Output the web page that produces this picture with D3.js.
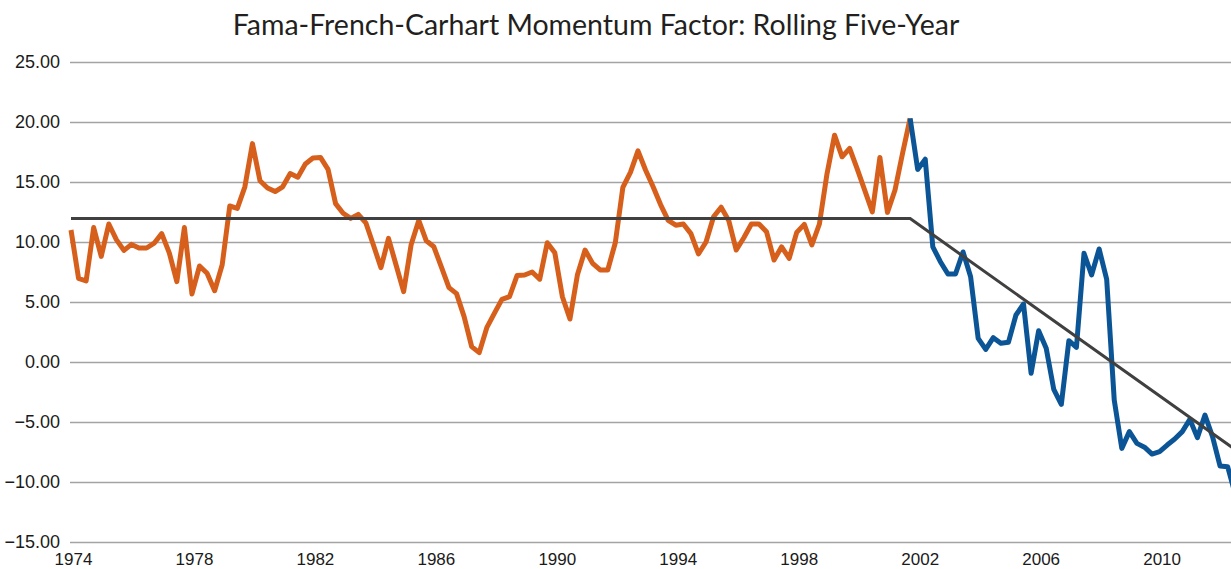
<!DOCTYPE html>
<html>
<head>
<meta charset="utf-8">
<script src="https://cdn.jsdelivr.net/npm/d3@7.9.0/dist/d3.min.js"></script>
<style>
  body { margin: 0; background: #fff; }
  svg { display: block; }
  .title { font-family: Lato, "Open Sans", sans-serif; font-size: 28.5px; fill: #231f20; }
  .axis text { font-family: "Liberation Sans", Arial, sans-serif; fill: #1a1a1a; }
</style>
</head>
<body>
<svg width="1231" height="569"></svg>
<script>
// quarterly rolling five-year momentum premium, 1974 onward
const rolling = [
  11.0, 6.97, 6.75, 11.2, 8.8, 11.5, 10.2, 9.3, 9.8, 9.5, 9.5, 9.9, 10.7, 9.1, 6.7, 11.2,
  5.67, 8.0, 7.4, 5.94, 8.1, 13.0, 12.8, 14.6, 18.2, 15.1, 14.5, 14.2, 14.6, 15.7, 15.4, 16.5,
  17.0, 17.05, 16.05, 13.2, 12.4, 11.97, 12.3, 11.6, 9.75, 7.86, 10.3, 8.08, 5.86, 9.8, 11.8, 10.1,
  9.6, 7.9, 6.2, 5.7, 3.78, 1.28, 0.78, 2.86, 4.05, 5.22, 5.44, 7.2, 7.25, 7.5, 6.9, 9.94,
  9.1, 5.44, 3.58, 7.3, 9.33, 8.22, 7.67, 7.67, 9.94, 14.55, 15.8, 17.6, 16.0, 14.6, 13.1, 11.8,
  11.4, 11.5, 10.7, 9.0, 10.0, 12.1, 12.9, 11.8, 9.33, 10.36, 11.5, 11.5, 10.86, 8.5, 9.6, 8.64,
  10.8, 11.47, 9.75, 11.5, 15.67, 18.9, 17.1, 17.8, 16.1, 14.3, 12.5, 17.05, 12.47, 14.33, 17.4, 20.3,
  16.05, 16.9, 9.6, 8.36, 7.33, 7.33, 9.17, 7.1, 1.97, 1.05, 2.03, 1.56, 1.64, 3.92, 4.83, -0.94,
  2.6, 1.14, -2.28, -3.53, 1.78, 1.22, 9.06, 7.25, 9.42, 6.89, -3.17, -7.2, -5.8, -6.78, -7.1, -7.67,
  -7.47, -6.92, -6.42, -5.8, -4.78, -6.3, -4.42, -6.22, -8.67, -8.72, -11.0
];
const breakIndex = 111; // series turns blue from the 2001 peak

// average / trend line: [quarter index, value]
const trendIdx = [0, 111, 154];
const trendVal = [11.95, 11.95, -7.3];

const yearTicks = [1974, 1978, 1982, 1986, 1990, 1994, 1998, 2002, 2006, 2010];
const valueTicks = [-15, -10, -5, 0, 5, 10, 15, 20, 25];

const svg = d3.select('svg');
const plotLeft = 70, plotRight = 1231, plotTop = 62, plotBottom = 542;

let x = d3.scaleLinear().domain([0, 154]).range([71, 1235.2]);
let y = d3.scaleLinear().domain([-15, 25]).range([plotBottom, plotTop]);

svg.append('text')
  .attr('class', 'title')
  .attr('x', 596)
  .attr('y', 35)
  .attr('text-anchor', 'middle')
  .text('Fama-French-Carhart Momentum Factor: Rolling Five-Year');

// gridlines + value labels
let yAxis = svg.append('g')
  .attr('class', 'axis')
  .attr('transform', `translate(${plotLeft},0)`)
  .call(d3.axisLeft(y).tickValues(valueTicks).tickFormat(d3.format('.2f'))
    .tickSize(-(plotRight - plotLeft)).tickPadding(10));
yAxis.select('.domain').remove();
yAxis.selectAll('line').attr('stroke', '#a3a3a3').attr('stroke-width', 1.5);
yAxis.selectAll('text').attr('font-size', 18);

// year labels, every 16 quarters
let xAxis = svg.append('g')
  .attr('class', 'axis')
  .attr('transform', `translate(2,${plotBottom})`)
  .call(d3.axisBottom(x).tickValues(yearTicks.map(d => (d - 1974) * 4))
    .tickFormat((d, i) => yearTicks[i]).tickSize(0).tickPadding(11));
xAxis.select('.domain').remove();
xAxis.selectAll('text').attr('font-size', 17);

svg.append('clipPath').attr('id', 'plot')
  .append('rect').attr('x', 0).attr('y', 0).attr('width', plotRight).attr('height', 569);

let line = d3.line().x(d => x(d[0])).y(d => y(d[1]));
let pts = rolling.map((v, i) => [i, v]);

let plot = svg.append('g').attr('clip-path', 'url(#plot)');

plot.append('path')
  .attr('d', line(pts.slice(0, breakIndex + 1)))
  .attr('fill', 'none').attr('stroke', '#d75f1c').attr('stroke-width', 5)
  .attr('stroke-linejoin', 'round');

plot.append('path')
  .attr('d', line(pts.slice(breakIndex)))
  .attr('fill', 'none').attr('stroke', '#0b5596').attr('stroke-width', 5)
  .attr('stroke-linejoin', 'round');

plot.append('path')
  .attr('d', line(trendIdx.map((d, i) => [d, trendVal[i]])))
  .attr('fill', 'none').attr('stroke', '#404040').attr('stroke-width', 3);
</script>
</body>
</html>
